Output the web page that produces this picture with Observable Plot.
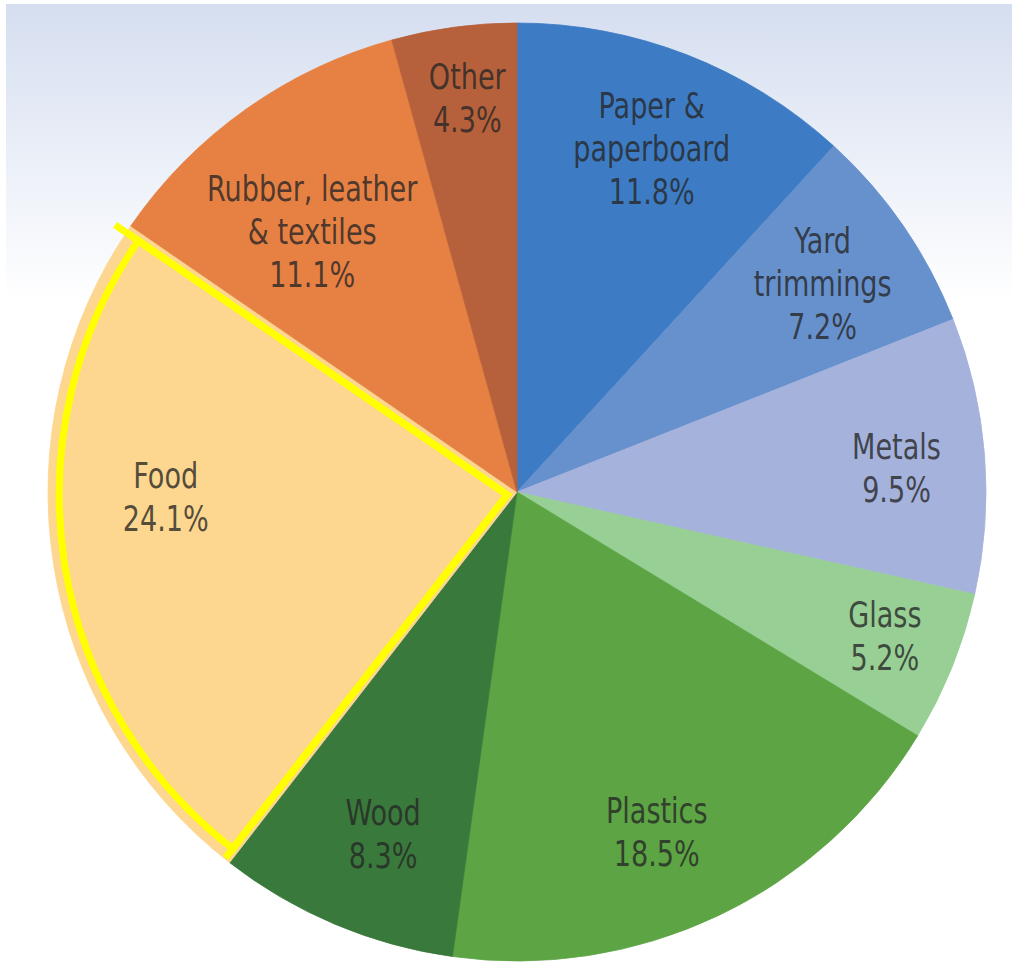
<!DOCTYPE html>
<html><head><meta charset="utf-8">
<script src="https://cdn.jsdelivr.net/npm/d3@7"></script>
<script src="https://cdn.jsdelivr.net/npm/@observablehq/plot@0.6"></script>
<style>body{margin:0;background:#fff}#chart svg{display:block}</style>
</head><body><div id="chart"></div>
<script>
// ---- data ----
const categories = ["Paper &\npaperboard", "Yard\ntrimmings", "Metals", "Glass", "Plastics", "Wood", "Food", "Rubber, leather\n& textiles", "Other"];
const shares = [11.8, 7.2, 9.5, 5.2, 18.5, 8.3, 24.1, 11.1, 4.3];
const sliceColors = ["#3d7cc4", "#6791cd", "#a4b2dc", "#98cf94", "#5ca444", "#39793b", "#fdd68f", "#e68143", "#b6613b"];
const highlighted = "Food";

// ---- label layout (fraction of radius, angular nudge in degrees) ----
const labelRadii = [0.79, 0.79, 0.81, 0.84, 0.78, 0.78, 0.75, 0.71, 0.85];
const labelNudge = [0, 0, 0.6, -0.8, 3, -1.3, 8.3, -2.6, 0.5];

const W = 1012, H = 962;
const arcs = d3.pie().sort(null).value(d => d.share)(
  categories.map((c, i) => ({category: c, share: shares[i], color: sliceColors[i], lr: labelRadii[i], ln: labelNudge[i]}))
);
const table = arcs.map(a => ({
  ...a.data,
  start: a.startAngle, end: a.endAngle,
  mid: (a.startAngle + a.endAngle) / 2 + a.data.ln * Math.PI / 180,
  label: a.data.category + "\n" + a.data.share.toFixed(1) + "%"
}));

function background(index, scales, values, dims) {
  const g = d3.create("svg:g");
  const grad = g.append("defs").append("linearGradient")
    .attr("id", "bgGrad").attr("x1", 0).attr("y1", 0).attr("x2", 0).attr("y2", 1);
  grad.append("stop").attr("offset", "0").attr("stop-color", "#d5def0");
  grad.append("stop").attr("offset", "0.31").attr("stop-color", "#ffffff");
  g.append("rect").attr("x", 6).attr("y", 4)
    .attr("width", dims.width - 6).attr("height", dims.height - 4)
    .attr("fill", "url(#bgGrad)");
  return g.node();
}

function pie(index, scales) {
  const cx = scales.x(0), cy = scales.y(0);
  const R = scales.x(1) - scales.x(0);
  const g = d3.create("svg:g").attr("transform", `translate(${cx},${cy})`);
  const arc = d3.arc().innerRadius(0).outerRadius(R);
  g.selectAll("path.slice").data(table).join("path")
    .attr("class", "slice")
    .attr("d", d => arc({startAngle: d.start, endAngle: d.end}))
    .attr("fill", d => d.color)
    .attr("stroke", d => d.color).attr("stroke-width", 0.8);
  const h = table.find(d => d.category === highlighted);
  const hr = R * 0.955;
  const hg = g.append("g").attr("transform", `translate(${-R * 0.021},${R * 0.006})`)
    .attr("fill", "none").attr("stroke", "#ffff00").attr("stroke-width", 7);
  hg.append("path")
    .attr("d", d3.arc().innerRadius(0).outerRadius(hr)({startAngle: h.start, endAngle: h.end}));
  const ext = (a, r) => [Math.sin(a) * r, -Math.cos(a) * r];
  hg.append("path").attr("d", "M0,0L" + ext(h.end, R * 1.015).join(","));
  hg.append("path").attr("d", "M0,0L" + ext(h.start, R * 0.98).join(","));
  return g.node();
}

const chart = Plot.plot({
  width: W, height: H,
  margin: 0,
  x: {domain: [-1, 1], range: [48, 986], axis: null},
  y: {domain: [-1, 1], range: [961, 23], axis: null},
  marks: [
    background,
    pie,
    Plot.text(table, {
      x: d => Math.sin(d.mid) * d.lr,
      y: d => Math.cos(d.mid) * d.lr,
      text: "label",
      fontSize: 35,
      lineHeight: 1.23,
      fontFamily: "'DejaVu Sans Condensed', 'DejaVu Sans', sans-serif",
      fill: "#262626",
      fillOpacity: 0.8
    })
  ]
});
// condense the label glyphs horizontally
d3.select(chart).selectAll('g[aria-label="text"] text').each(function() {
  let t = this.getAttribute("transform") || "";
  const x = this.getAttribute("x"), y = this.getAttribute("y");
  if (x != null || y != null) {
    t = `translate(${x || 0},${y || 0}) ` + t;
    this.removeAttribute("x"); this.removeAttribute("y");
    d3.select(this).selectAll("tspan").attr("x", 0);
  }
  this.setAttribute("transform", t + " scale(0.86,1)");
});
document.getElementById("chart").appendChild(chart);
</script>
</body></html>
